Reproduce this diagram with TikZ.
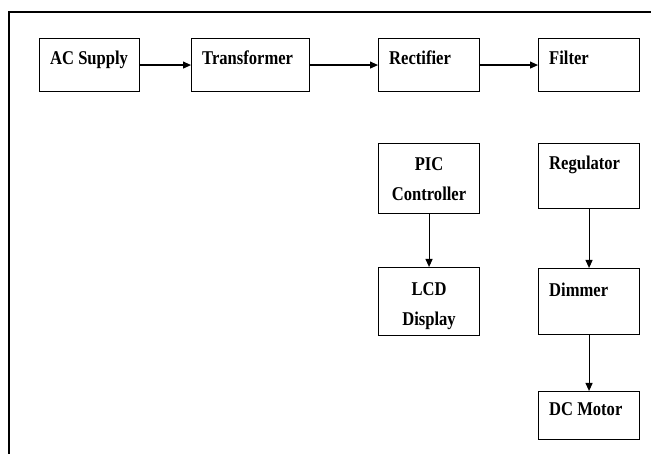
\documentclass[tikz,border=0pt]{standalone}
\usepackage{fontspec}
\setmainfont{Liberation Serif}[FakeStretch=0.85]
\usetikzlibrary{arrows.meta}

\tikzset{
	blk/.style={draw, line width=1.1pt, anchor=north west, minimum width=101pt, inner sep=0pt},
	txt/.style={anchor=base west, inner sep=0pt, xshift=11pt, yshift=-27pt, font=\bfseries\fontsize{19.5}{30}\selectfont},
	ctxt/.style={anchor=north, inner sep=0pt, yshift=-14pt, align=center, font=\bfseries\fontsize{19.5}{30}\selectfont},
	link/.style={line width=1.1pt, -{Triangle[length=8pt,width=7pt]}}
}

\begin{document}
\begin{tikzpicture}[x=1pt, y=-1pt]
		\def\W{651};
		\def\H{454};
		\useasboundingbox (0,0) rectangle (\W,\H);
		
		% frame
		\draw [line width=1.4pt] (9,\H) -- (9,12) -- (\W,12);
		
		% supply chain
		\node [blk, minimum width=100pt, minimum height=53pt, label={[txt]north west:AC Supply}] (ac) at (39,38) {};
		\node [blk, minimum width=118pt, minimum height=53pt, label={[txt]north west:Transformer}] (tr) at (191,38) {};
		\node [blk, minimum height=53pt, label={[txt]north west:Rectifier}] (rect) at (378,38) {};
		\node [blk, minimum height=53pt, label={[txt]north west:Filter}] (filt) at (538,38) {};
		
		% controller
		\node [blk, minimum height=70pt, label={[ctxt]north:PIC\\Controller}] (pic) at (378,143) {};
		\node [blk, minimum height=68pt, label={[ctxt, yshift=-1pt]north:LCD\\Display}] (lcd) at (378,267) {};
		
		% motor
		\node [blk, minimum height=65pt, label={[txt]north west:Regulator}] (reg) at (538,143) {};
		\node [blk, minimum height=66pt, label={[txt, yshift=-2pt]north west:Dimmer}] (dim) at (538,268) {};
		\node [blk, minimum height=48pt, label={[txt, yshift=3pt]north west:DC Motor}] (mot) at (538,391) {};
		
		\begin{scope}[link]
			\foreach \a/\b in {ac/tr, tr/rect, rect/filt}
				\draw (\a.east) -- (\b.west);
			\foreach \a/\b in {pic/lcd, reg/dim, dim/mot}
				\draw (\a.south) -- (\b.north);
		\end{scope}
	\end{tikzpicture}
\end{document}
